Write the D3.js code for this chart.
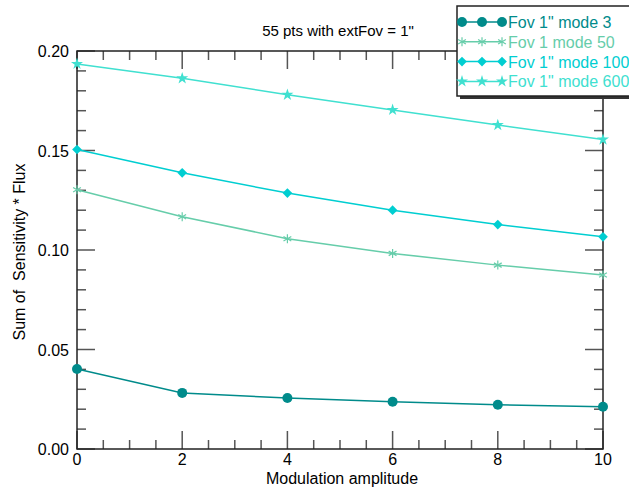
<!DOCTYPE html>
<html>
<head>
<meta charset="utf-8">
<script src="https://cdn.jsdelivr.net/npm/d3@7"></script>
<style>
  body { margin: 0; background: #fff; }
  svg { display: block; font-family: "Liberation Sans", Arial, sans-serif; }
</style>
</head>
<body>
<svg id="chart" width="629" height="489"></svg>
<script>
// data
const xValues = [0, 2, 4, 6, 8, 10];
const mode3 = [0.0402, 0.0282, 0.0256, 0.0237, 0.0222, 0.0212];
const mode50 = [0.1303, 0.1167, 0.1057, 0.0983, 0.0924, 0.0874];
const mode100 = [0.1505, 0.1388, 0.1286, 0.1200, 0.1128, 0.1066];
const mode600 = [0.1935, 0.1863, 0.1780, 0.1704, 0.1628, 0.1555];
const seriesNames = ['Fov 1" mode 3', 'Fov 1 mode 50', 'Fov 1" mode 100', 'Fov 1" mode 600'];
const xTicks = [0, 2, 4, 6, 8, 10];
const yTicks = [0, 0.05, 0.10, 0.15, 0.20];

const series = [
  { name: seriesNames[0], values: mode3, color: "#008b8b", marker: "circle" },
  { name: seriesNames[1], values: mode50, color: "#66cdaa", marker: "asterisk" },
  { name: seriesNames[2], values: mode100, color: "#00ced1", marker: "diamond" },
  { name: seriesNames[3], values: mode600, color: "#40e0d0", marker: "star" }
];

const svg = d3.select("#chart");
const pLeft = 77, pRight = 603, pTop = 51, pBottom = 449;

const x = d3.scaleLinear().domain([0, 10]).range([pLeft, pRight]);
const y = d3.scaleLinear().domain([0, 0.2]).range([pBottom, pTop]);

// minor + major ticks, pointing inward on all four sides
const tickCol = "#555";
const axes = svg.append("g");
d3.range(0, 10.01, 0.5).forEach(v => {
  const major = Math.abs(v % 2) < 1e-6;
  const len = major ? 18 : 9;
  axes.append("line").attr("x1", x(v)).attr("x2", x(v)).attr("y1", pBottom).attr("y2", pBottom - len)
    .attr("stroke", tickCol).attr("stroke-width", 1.5);
  axes.append("line").attr("x1", x(v)).attr("x2", x(v)).attr("y1", pTop).attr("y2", pTop + len)
    .attr("stroke", tickCol).attr("stroke-width", 1.5);
});
d3.range(0, 0.2001, 0.01).forEach(v => {
  const major = Math.abs(Math.round(v * 100) % 5) === 0;
  const len = major ? 18 : 9;
  axes.append("line").attr("y1", y(v)).attr("y2", y(v)).attr("x1", pLeft).attr("x2", pLeft + len)
    .attr("stroke", tickCol).attr("stroke-width", 1.5);
  axes.append("line").attr("y1", y(v)).attr("y2", y(v)).attr("x1", pRight).attr("x2", pRight - len)
    .attr("stroke", tickCol).attr("stroke-width", 1.5);
});

axes.append("rect").attr("x", pLeft).attr("y", pTop).attr("width", pRight - pLeft).attr("height", pBottom - pTop)
  .attr("fill", "none").attr("stroke", "#222").attr("stroke-width", 1.5);

// tick labels
svg.append("g").selectAll("text").data(xTicks).join("text")
  .attr("x", d => x(d)).attr("y", pBottom + 16)
  .attr("text-anchor", "middle").attr("font-size", 16).attr("fill", "#000")
  .text(d => d);
svg.append("g").selectAll("text").data(yTicks).join("text")
  .attr("x", pLeft - 8).attr("y", d => y(d) + 6)
  .attr("text-anchor", "end").attr("font-size", 16).attr("fill", "#000")
  .text(d => d.toFixed(2));

// titles
svg.append("text").attr("x", 338).attr("y", 36).attr("text-anchor", "middle")
  .attr("font-size", 15).text('55 pts with extFov = 1"');
svg.append("text").attr("x", 342).attr("y", 484).attr("text-anchor", "middle")
  .attr("font-size", 16).text("Modulation amplitude");
svg.append("text").attr("transform", "translate(25,252) rotate(-90)").attr("text-anchor", "middle")
  .attr("font-size", 16).attr("xml:space", "preserve").text("Sum of  Sensitivity * Flux");

// markers
function drawMarker(g, type, color, size) {
  if (type === "circle") {
    g.append("circle").attr("r", size).attr("fill", color);
  } else if (type === "diamond") {
    g.append("path").attr("d", d3.symbol(d3.symbolDiamond2, size * size * 2.4)).attr("fill", color);
  } else if (type === "star") {
    g.append("path").attr("d", d3.symbol(d3.symbolStar, size * size * 1.8)).attr("fill", color);
  } else if (type === "asterisk") {
    const r = size - 0.5;
    [0, 60, 120].forEach(a => {
      g.append("line").attr("x1", 0).attr("y1", -r).attr("x2", 0).attr("y2", r)
        .attr("stroke", color).attr("stroke-width", 1.2).attr("transform", `rotate(${a})`);
    });
  }
}

const line = d3.line().x((d, i) => x(xValues[i])).y(d => y(d));
const plot = svg.append("g");
series.forEach(s => {
  plot.append("path").datum(s.values).attr("d", line)
    .attr("fill", "none").attr("stroke", s.color).attr("stroke-width", 1.5);
  s.values.forEach((v, i) => {
    const g = plot.append("g").attr("transform", `translate(${x(xValues[i])},${y(v)})`);
    drawMarker(g, s.marker, s.color, 5);
  });
});

// legend
const lg = svg.append("g");
lg.append("rect").attr("x", 460).attr("y", 9).attr("width", 200).attr("height", 90).attr("fill", "#333");
lg.append("rect").attr("x", 457).attr("y", 6).attr("width", 200).attr("height", 90)
  .attr("fill", "#fff").attr("stroke", "#222").attr("stroke-width", 1.5);
series.forEach((s, i) => {
  const ly = 22 + i * 19.8;
  lg.append("line").attr("x1", 462).attr("x2", 502).attr("y1", ly).attr("y2", ly)
    .attr("stroke", s.color).attr("stroke-width", 1.5);
  [462, 482, 502].forEach(px => {
    const g = lg.append("g").attr("transform", `translate(${px},${ly})`);
    drawMarker(g, s.marker, s.color, 5);
  });
  lg.append("text").attr("x", 508).attr("y", ly + 6).attr("font-size", 16)
    .attr("fill", s.color).text(s.name);
});
</script>
</body>
</html>
